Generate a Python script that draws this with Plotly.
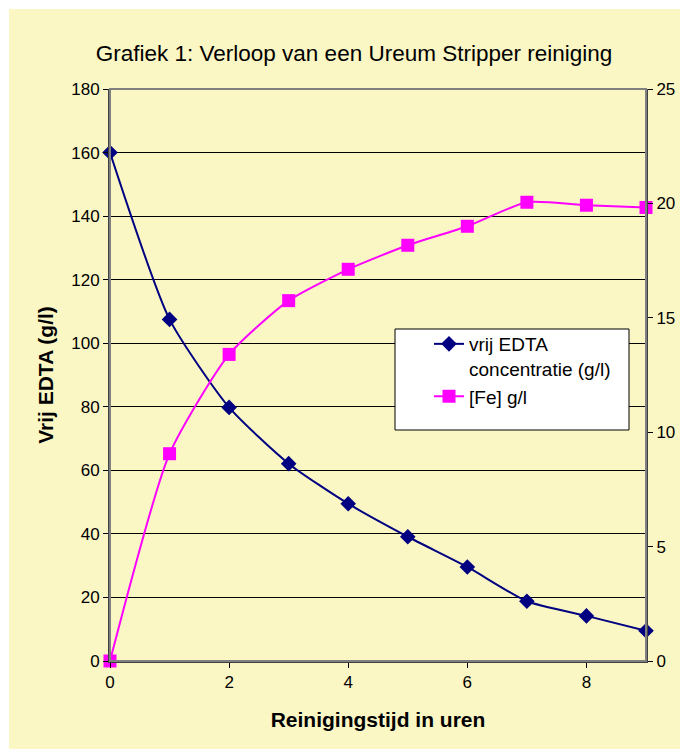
import plotly.graph_objects as go

hours = [0, 1, 2, 3, 4, 5, 6, 7, 8, 9]
edta = [160, 107.5, 79.8, 62.1, 49.5, 39.1, 29.6, 18.8, 14.2, 9.5]
fe = [0, 9.06, 13.4, 15.75, 17.12, 18.17, 19.0, 20.05, 19.92, 19.82]

edta_name = "vrij EDTA<br>concentratie (g/l)"
fe_name = "[Fe] g/l"
title_text = "Grafiek 1: Verloop van een Ureum Stripper reiniging"
x_title = "Reinigingstijd in uren"
y_title = "Vrij EDTA (g/l)"

FONT = "Liberation Sans, Arial, sans-serif"

fig = go.Figure()
fig.add_trace(go.Scatter(
    x=hours, y=edta, name=edta_name, mode="lines+markers",
    line=dict(color="#000080", width=2, shape="spline", smoothing=0.6),
    marker=dict(symbol="diamond", size=12, color="#000080"),
    cliponaxis=False, yaxis="y"))
fig.add_trace(go.Scatter(
    x=hours, y=fe, name=fe_name, mode="lines+markers",
    line=dict(color="#FF00FF", width=2, shape="spline", smoothing=0.6),
    marker=dict(symbol="square", size=13, color="#FF00FF"),
    cliponaxis=False, yaxis="y2"))

# figure is placed at page offset (8, 8) by the browser body margin
W, H = 680, 741
L, T = 102, 81
R = W - 638
B = H - 653
pw, ph = W - L - R, H - T - B

def px(x):
    return (x - L) / pw

def py(y):
    return (H - B - y) / ph

fig.update_layout(
    width=W, height=H,
    margin=dict(l=L, r=R, t=T, b=B),
    paper_bgcolor="white",
    plot_bgcolor="#C0C0C0",
    font=dict(family=FONT, size=17, color="black"),
    title=dict(text=title_text, xref="container", x=346 / W, xanchor="center",
               yref="container", y=1 - 45 / H, yanchor="middle",
               font=dict(size=22.5, family=FONT)),
    xaxis=dict(range=[0, 9], dtick=2, tick0=0, showgrid=False, zeroline=False,
               ticks="outside", ticklen=5, tickcolor="black",
               showline=True, linecolor="#404040", linewidth=2,
               title=dict(text="<b>" + x_title + "</b>", font=dict(size=21), standoff=21)),
    yaxis=dict(range=[0, 180], dtick=20, showgrid=True, gridcolor="black", gridwidth=1,
               zeroline=False, ticks="outside", ticklen=5, tickcolor="black",
               showline=True, linecolor="#404040", linewidth=2,
               title=dict(text="<b>" + y_title + "</b>", font=dict(size=21), standoff=12)),
    yaxis2=dict(range=[0, 25], dtick=5, overlaying="y", side="right", showgrid=False,
                zeroline=False, ticks="outside", ticklen=5, tickcolor="black",
                showline=True, linecolor="#404040", linewidth=2),
    showlegend=True,
    legend=dict(x=px(421), y=py(317), xanchor="left", yanchor="top",
                bgcolor="rgba(0,0,0,0)", borderwidth=0, valign="top",
                font=dict(size=19, family=FONT)),
    shapes=[
        dict(type="rect", xref="paper", yref="paper", layer="below",
             x0=px(1), x1=px(W + 5), y0=py(H + 5), y1=py(1),
             fillcolor="#FAF7C5", line=dict(width=0)),
        dict(type="rect", xref="paper", yref="paper", layer="above",
             x0=0, x1=1, y0=0, y1=1, line=dict(color="#808080", width=2)),
        dict(type="rect", xref="paper", yref="paper", layer="above",
             x0=px(387), x1=px(621), y0=py(422), y1=py(321),
             fillcolor="white", line=dict(color="black", width=1)),
    ],
)

fig.write_html("out.html")
